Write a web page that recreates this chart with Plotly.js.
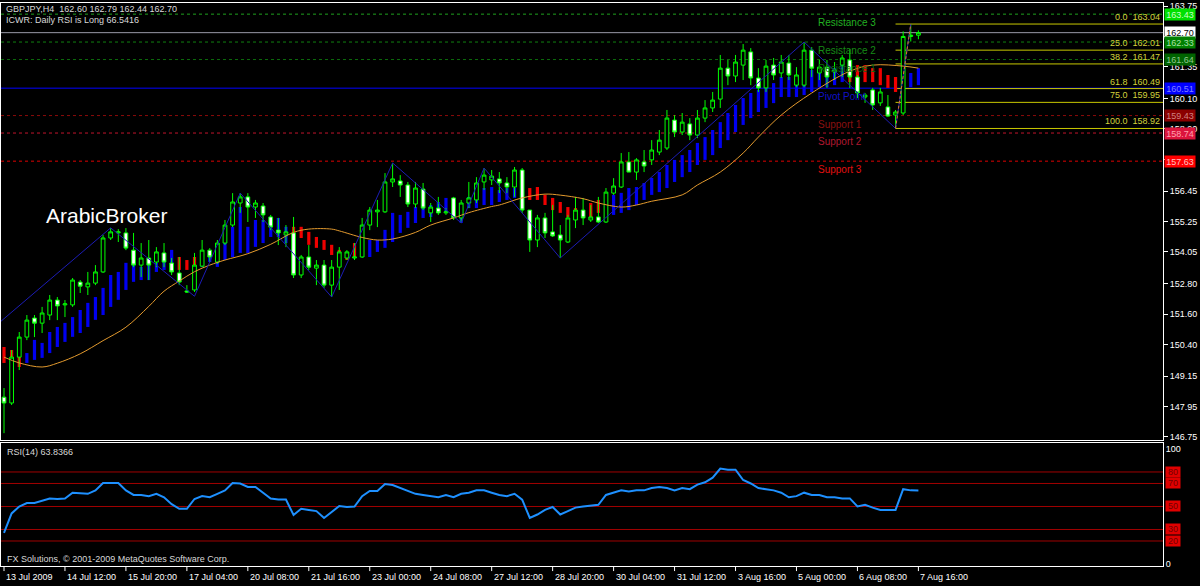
<!DOCTYPE html>
<html><head><meta charset="utf-8">
<script src="https://cdn.plot.ly/plotly-3.0.1.min.js"></script>
<style>html,body{margin:0;padding:0;background:#000;}#chart{width:1200px;height:586px;}</style>
</head><body><div id="chart"></div>
<script>
// ---------- DATA ----------
const headerLine1 = 'GBPJPY,H4\u00a0\u00a0162.60 162.79 162.44 162.70';
const headerLine2 = 'ICWR: Daily RSI is Long 66.5416';
const rsiLabel = 'RSI(14) 63.8366';
const copyright = 'FX Solutions, \u00a9 2001-2009 MetaQuotes Software Corp.';
const brandText = 'ArabicBroker';

const timeLabels = ['13 Jul 2009','14 Jul 12:00','15 Jul 20:00','17 Jul 04:00','20 Jul 08:00','21 Jul 16:00','23 Jul 00:00','24 Jul 08:00','27 Jul 12:00','28 Jul 20:00','30 Jul 04:00','31 Jul 12:00','3 Aug 16:00','5 Aug 00:00','6 Aug 08:00','7 Aug 16:00'];
const timeLabelBars = [0,8,16,24,32,40,48,56,64,72,80,88,96,104,112,120];

const open = [148.32,148.09,149.90,150.69,151.44,151.24,151.56,152.15,151.96,151.96,
152.86,152.67,152.82,153.26,154.60,154.80,154.80,154.12,153.53,153.81,
153.65,154.01,153.61,153.22,152.51,152.55,153.49,154.12,153.65,154.40,
155.11,155.98,156.22,155.82,155.86,155.43,154.91,154.72,154.80,153.14,
153.85,153.41,153.53,152.74,153.45,153.81,153.81,153.85,155.11,155.63,
155.63,156.81,156.85,156.69,155.94,156.53,155.59,155.78,155.59,156.18,
155.39,155.98,156.10,156.81,156.89,156.93,156.77,156.61,157.28,155.70,
154.52,155.39,154.84,154.72,154.44,155.31,155.70,155.31,155.43,155.23,
156.37,156.61,157.60,157.20,157.60,157.68,157.99,158.15,159.25,158.78,
159.10,158.66,159.33,159.73,160.08,161.30,160.99,161.42,161.94,160.91,
160.52,161.42,161.11,161.50,160.63,160.63,162.01,161.11,161.34,161.15,
161.42,161.62,160.95,160.16,160.44,159.93,159.77,159.45,159.53,162.55,
162.60];
const high = [148.68,150.18,150.89,151.56,151.56,151.88,152.35,152.27,152.15,153.02,
152.94,153.26,153.53,154.72,154.99,154.95,154.99,154.80,154.40,154.52,
154.24,154.40,153.81,153.85,152.74,154.01,154.52,154.20,154.52,155.31,
156.37,156.37,156.37,156.10,155.98,155.51,155.39,155.11,155.43,153.93,
154.32,153.73,153.73,153.73,154.24,154.12,154.40,155.39,155.82,156.10,
157.16,157.56,157.08,156.81,156.81,156.77,155.98,156.22,155.78,156.22,
156.10,156.81,157.00,157.36,157.28,157.20,157.00,157.40,157.36,155.70,
155.51,155.59,155.90,155.11,155.51,156.22,156.18,155.90,156.22,156.57,
156.96,157.95,157.99,157.75,158.07,158.46,158.86,159.65,159.45,159.53,
159.33,159.65,160.04,160.36,161.82,161.62,161.82,162.25,162.09,161.30,
161.62,161.70,161.82,161.82,161.34,162.33,162.13,161.62,161.62,161.54,
161.82,162.05,161.03,160.32,160.52,160.52,160.24,159.65,162.75,163.04,
162.79];
const low = [146.90,148.01,149.39,150.57,150.69,150.85,151.36,151.36,151.48,151.88,
152.43,152.35,152.74,153.22,154.52,154.44,154.12,153.45,153.06,152.94,
153.45,153.45,153.14,152.74,152.43,152.47,153.45,153.65,153.57,154.32,
155.03,155.59,155.23,155.39,155.23,154.91,154.32,154.24,153.02,153.02,
153.34,152.74,152.63,152.27,152.55,153.73,153.73,153.81,154.91,155.03,
155.59,156.61,156.22,155.82,155.78,155.70,155.23,155.51,155.51,155.31,
155.19,155.78,155.98,156.49,156.69,156.37,156.37,156.22,155.59,154.05,
154.24,154.60,154.64,153.81,154.40,154.99,155.11,155.23,155.19,155.19,
156.30,156.57,157.20,156.89,157.20,157.48,157.87,158.07,158.58,158.66,
158.46,158.54,159.17,159.57,159.73,160.63,160.75,160.83,160.63,160.36,
160.36,160.83,160.91,160.83,160.55,160.55,160.95,160.83,160.52,160.83,
160.95,160.52,160.12,159.93,159.65,159.81,159.37,158.92,159.45,162.35,
162.44];
const close = [148.09,149.90,150.69,151.36,151.24,151.64,152.15,151.92,152.00,152.94,
152.70,152.82,153.26,154.60,154.84,154.84,154.20,153.53,153.81,153.53,
154.05,153.65,153.26,152.86,152.47,153.53,154.12,153.85,154.40,155.11,
156.02,156.22,155.82,155.98,155.51,155.03,154.80,154.84,153.14,153.85,
153.45,153.53,152.74,153.45,154.05,154.05,153.85,155.11,155.70,155.70,
156.81,156.93,156.69,155.94,156.57,155.78,155.82,155.59,155.63,155.39,
155.98,156.18,156.77,157.08,157.04,156.77,156.61,157.28,155.70,154.52,
155.39,154.80,154.68,154.52,155.39,155.70,155.39,155.43,155.23,156.41,
156.65,157.60,157.20,157.68,157.44,158.07,158.46,159.33,158.78,159.17,
158.66,159.33,159.73,160.04,161.30,160.99,161.54,162.01,160.91,160.52,
161.38,161.03,161.54,161.03,161.03,162.01,161.30,161.34,160.95,161.23,
161.70,160.95,160.32,160.24,159.85,160.36,159.41,159.57,162.55,162.60,
162.70];

// trend band indicator (top / bottom of each histogram bar, direction 1 = up/blue, -1 = down/red)
const bandTop = [150.30,150.18,149.91,150.06,150.58,150.46,150.89,151.09,151.25,151.48,
151.76,152.04,152.27,152.63,153.14,153.26,153.62,153.65,153.46,153.54,
153.62,153.73,154.13,153.85,153.73,153.85,154.01,153.85,154.25,154.80,
155.04,155.82,155.04,155.31,155.31,155.43,155.39,155.04,155.04,155.04,
154.84,154.64,154.52,154.33,154.13,154.05,154.40,154.64,154.52,154.52,
154.92,155.59,155.51,155.63,155.82,155.82,155.90,156.02,156.18,156.10,
155.70,156.22,156.38,156.57,156.61,156.49,156.57,156.57,156.89,156.57,
156.61,156.30,156.18,156.02,155.82,155.78,155.70,155.98,156.10,155.98,
156.30,156.38,156.57,156.61,156.77,156.97,157.20,157.48,157.68,157.87,
158.07,158.35,158.58,158.86,159.17,159.53,159.85,160.12,160.32,160.44,
160.55,160.71,160.95,160.95,160.83,161.03,161.23,161.23,161.34,161.30,
161.42,161.42,161.42,161.42,161.30,161.30,161.03,160.95,161.11,161.11,
161.30];
const bandBot = [149.67,149.55,149.51,149.67,149.79,149.87,150.06,150.30,150.50,150.70,
150.85,151.09,151.37,151.56,151.88,152.16,152.55,152.87,152.94,152.94,
153.26,153.34,153.46,153.34,153.34,153.34,153.46,153.65,153.46,153.73,
153.85,154.01,154.01,154.25,154.40,154.64,154.64,154.40,154.80,154.60,
154.33,154.21,154.13,153.93,153.73,153.73,153.85,153.85,153.85,154.05,
154.21,154.44,154.80,155.00,155.19,155.39,155.43,155.59,155.63,155.39,
155.19,155.78,155.78,155.90,155.90,156.02,156.10,156.18,156.30,156.10,
156.10,155.90,155.70,155.59,155.43,155.43,155.39,155.31,155.59,155.43,
155.51,155.59,155.70,155.90,156.10,156.30,156.41,156.57,156.81,157.00,
157.20,157.48,157.68,157.87,158.15,158.46,158.78,159.06,159.33,159.57,
159.73,159.92,160.16,160.16,160.16,160.24,160.36,160.55,160.55,160.63,
160.75,160.75,160.75,160.75,160.75,160.63,160.52,160.36,160.55,160.55,
160.63];
const bandDir = [-1,-1,-1,1,1,1,1,1,1,1,
1,1,1,1,1,1,1,1,1,1,
1,1,1,-1,-1,-1,1,1,1,1,
1,1,1,1,1,1,1,1,-1,-1,
-1,-1,-1,-1,-1,-1,-1,1,1,1,
1,1,1,1,1,1,1,1,1,1,
1,1,1,1,1,1,1,1,1,-1,
-1,-1,-1,-1,-1,-1,-1,-1,-1,1,
1,1,1,1,1,1,1,1,1,1,
1,1,1,1,1,1,1,1,1,1,
1,1,1,1,1,1,1,1,1,1,
1,-1,-1,-1,-1,-1,-1,-1,1,1,
1];

// moving average (read at selected bars)
const maBars = [0,2,5,7,10,13,16,19,21,23,25,27,29,32,35,38,40,43,44,47,49,51,54,56,59,61,64,65,68,71,73,76,78,81,83,85,89,91,94,97,99,102,106,111,114,118,120];
const maVals = [149.90,149.67,149.51,149.66,150.03,150.55,151.08,151.90,152.50,152.90,153.27,153.53,153.73,153.98,154.35,154.82,154.95,154.95,154.88,154.62,154.52,154.56,154.82,155.11,155.39,155.60,155.84,155.90,156.18,156.33,156.29,156.15,155.98,155.82,155.90,156.05,156.30,156.69,157.20,157.95,158.58,159.45,160.32,161.18,161.42,161.38,161.30];

// zigzag swing points
const zzBars = [-1,14,25,31,43,51,60,63,73,105,117,119];
const zzVals = [151.16,155.00,152.30,156.37,152.27,157.56,155.19,157.36,153.81,162.33,158.92,163.04];

// pivot levels
const pivotNames = ['Resistance 3','Resistance 2','Resistance 1','Pivot Point','Support 1','Support 2','Support 3'];
const pivotVals = [163.43,162.33,161.64,160.51,159.43,158.74,157.63];
const pivotLabelBar = 106.5;
const bidPrice = 162.70;

// fibonacci
const fibLowBar = 117, fibHighBar = 119;
const fibLow = 158.92, fibHigh = 163.04;
const fibLevels = [0.0,25.0,38.2,61.8,75.0,100.0];

// price axis ticks (labels hidden under price tags are left blank)
const priceTicks = [163.75,162.55,161.35,160.10,158.90,157.70,156.45,155.25,154.05,152.80,151.60,150.40,149.15,147.95,146.75];
const priceTickText = ['163.75','','161.35','160.10','158.90','','156.45','155.25','154.05','152.80','151.60','150.40','149.15','147.95','146.75'];

// RSI(14)
const rsi = [27,44,50,53,53,55,57,56.5,57,62,
61.5,61,64,70.4,70.4,70.4,64,60,60,59,
61,58,52,48,48,56.5,59,58,61,64,
70.4,70,67,67,62,57,56,56,42.6,48,
47,46,40,45,50.4,49.6,50,59,63.5,63.5,
69.6,68.7,66,64,61,60,59,58,60,58,
61,62,64,64,62,60,59,61,56,40,
43,47,49.6,43,46,49,50,51,51.5,60,
62,64,63,64,64,66,67,66,64,66,
65,69,71,75,83,82,82,73,70,66,
65,64,62,58,59,62,60,60,58,58,
57,57,50,51.5,49,47,47,47,65,64,
63.8366];
const rsiLevels = [80,70,50,30,20];

// ---------- STYLE / BUILD ----------
const FONT = 'Liberation Sans, Arial, sans-serif';
const bars = open.map((_, i) => i);
const xRange = [-0.394, 152.1];

const traces = [];
traces.push({
  type:'bar', x: bars, y: bandTop.map((t,i)=>t-bandBot[i]), base: bandBot,
  width: 0.42, marker:{color: bandDir.map(d => d > 0 ? '#0000f0' : '#f00000'), line:{width:0}},
  xaxis:'x', yaxis:'y', hoverinfo:'skip'
});
traces.push({
  type:'candlestick', x: bars, open, high, low, close,
  increasing:{line:{color:'#00ff00', width:1}, fillcolor:'#000000'},
  decreasing:{line:{color:'#00ff00', width:1}, fillcolor:'#ffffff'},
  whiskerwidth:0, xaxis:'x', yaxis:'y', hoverinfo:'skip'
});
traces.push({
  type:'scatter', mode:'lines', x: maBars, y: maVals,
  line:{color:'#e39a2e', width:1, shape:'spline'}, xaxis:'x', yaxis:'y', hoverinfo:'skip'
});
traces.push({
  type:'scatter', mode:'lines', x: zzBars, y: zzVals,
  line:{color:'#1c1cb4', width:1}, xaxis:'x', yaxis:'y', hoverinfo:'skip'
});
traces.push({
  type:'scatter', mode:'lines', x: bars, y: rsi,
  line:{color:'#1e90ff', width:2}, xaxis:'x2', yaxis:'y2', hoverinfo:'skip'
});

const shapes = [];
const annotations = [];

// fib lines
const fibPrice = l => fibHigh - (fibHigh - fibLow) * l / 100;
fibLevels.forEach(l => {
  const p = fibPrice(l);
  shapes.push({type:'line', layer:'below', xref:'x', yref:'y', x0: fibLowBar, x1: xRange[1], y0:p, y1:p, line:{color:'#c8c800', width:1}});
  annotations.push({xref:'paper', yref:'y', x:1, y:p, xanchor:'right', yanchor:'bottom', xshift:-1, yshift:0, showarrow:false,
    text: l.toFixed(1) + '\u00a0\u00a0' + p.toFixed(2), font:{family:FONT, size:9, color:'#d2d23c'}});
});
// bid line
shapes.push({type:'line', layer:'below', xref:'paper', yref:'y', x0:0, x1:1, y0:bidPrice, y1:bidPrice, line:{color:'#9a9aa8', width:1}});
// pivot lines
const pivotLineColors = ['#1fa01f','#108010','#0c6a0c','#0000ff','#8b0a0a','#c0142c','#e00000'];
const pivotTextColors = ['#22b022','#168a16','#0e6a0e','#1010c8','#8a1010','#b01830','#e01010'];
pivotVals.forEach((v, k) => {
  shapes.push({type:'line', layer:'below', xref:'paper', yref:'y', x0:0, x1:1, y0:v, y1:v,
    line:{color:pivotLineColors[k], width:1, dash: k === 3 ? 'solid' : '3px,3px'}});
  annotations.push({xref:'x', yref:'y', x: pivotLabelBar, y: v, xanchor:'left', yanchor:'top', yshift:-1, showarrow:false,
    text: pivotNames[k], font:{family:FONT, size:10, color: pivotTextColors[k]}});
});
// fib diagonal
shapes.push({type:'line', xref:'x', yref:'y', x0:fibLowBar, y0:fibLow, x1:fibHighBar, y1:fibHigh, line:{color:'#e07828', width:1, dash:'3px,2px'}});

// RSI levels
rsiLevels.forEach(v => {
  shapes.push({type:'line', layer:'below', xref:'paper', yref:'y2', x0:0, x1:1, y0:v, y1:v, line:{color:'#a00000', width:1}});
  annotations.push({xref:'paper', yref:'y2', x:1, y:v, xanchor:'left', yanchor:'middle', xshift:2, showarrow:false, text:String(v),
    bgcolor:'#e00000', font:{family:FONT, size:9, color:'#700000'}, borderpad:0, width:14, height:10});
});

// price tags on the right axis
const tagVals = [163.43, 162.70, 162.33, 161.64, 160.51, 159.43, 158.74, 157.63];
const tagBg = ['#00e000','#ffffff','#008000','#006400','#0000ff','#8b0000','#dc143c','#ff0000'];
const tagFg = ['#c8ffc8','#000000','#a8e0a8','#90c890','#8080ff','#d08080','#ffa0b0','#ffc0c0'];
tagVals.forEach((v, k) => {
  annotations.push({xref:'paper', yref:'y', x:1, y:v, xanchor:'left', yanchor:'middle', xshift:1, showarrow:false, text:v.toFixed(2),
    bgcolor: tagBg[k], font:{family:FONT, size:9, color: tagFg[k]}, borderpad:0, width:30, height:11});
});

// time labels
timeLabels.forEach((t, k) => {
  annotations.push({xref:'x', yref:'paper', x: timeLabelBars[k], y:0, xanchor:'left', yanchor:'top', xshift:0, yshift:-4,
    showarrow:false, text:t, font:{family:FONT, size:9, color:'#ffffff'}});
  shapes.push({type:'line', xref:'x', yref:'paper', x0: timeLabelBars[k], x1: timeLabelBars[k], y0:0, y1:-0.009, line:{color:'#ffffff', width:1}});
});

// texts
annotations.push({xref:'paper', yref:'paper', x:0, y:1, xanchor:'left', yanchor:'top', xshift:3, yshift:1, showarrow:false,
  text: headerLine1, font:{family:FONT, size:9, color:'#d8d8d8'}});
annotations.push({xref:'paper', yref:'paper', x:0, y:1, xanchor:'left', yanchor:'top', xshift:3, yshift:-10, showarrow:false,
  text: headerLine2, font:{family:FONT, size:9, color:'#d8d8d8'}});
annotations.push({xref:'x', yref:'y', x:5.3, y:155.5, xanchor:'left', yanchor:'middle', showarrow:false,
  text: brandText, font:{family:FONT, size:21, color:'#ffffff'}});
annotations.push({xref:'paper', yref:'paper', x:0, y:0.2185, xanchor:'left', yanchor:'top', xshift:4, yshift:-2, showarrow:false,
  text: rsiLabel, font:{family:FONT, size:9, color:'#d8d8d8'}});
annotations.push({xref:'paper', yref:'paper', x:0, y:0, xanchor:'left', yanchor:'bottom', xshift:4, yshift:0, showarrow:false,
  text: copyright, font:{family:FONT, size:9, color:'#d8d8d8'}});

const axisCommon = {showgrid:false, zeroline:false, showline:true, mirror:true, linecolor:'#ffffff', linewidth:1};
const layout = {
  width:1200, height:586, paper_bgcolor:'#000000', plot_bgcolor:'#000000',
  margin:{l:1, r:37, t:3, b:20}, showlegend:false, dragmode:false,
  xaxis: Object.assign({domain:[0,1], range:xRange, anchor:'y', showticklabels:false, ticks:'', rangeslider:{visible:false}, fixedrange:true}, axisCommon),
  xaxis2: Object.assign({domain:[0,1], range:xRange, anchor:'y2', matches:'x', showticklabels:false, ticks:'', rangeslider:{visible:false}}, axisCommon),
  yaxis: Object.assign({domain:[0.2238,1], range:[146.63,163.87], side:'right', anchor:'x',
    tickvals: priceTicks, ticktext: priceTickText, ticks:'outside', ticklen:4, tickcolor:'#ffffff',
    tickfont:{family:FONT, size:9, color:'#ffffff'}}, axisCommon),
  yaxis2: Object.assign({domain:[0,0.2185], range:[-1.74,105.2], side:'right', anchor:'x2',
    tickvals:[0,100], ticktext:['0','100'], ticks:'', tickfont:{family:FONT, size:9, color:'#ffffff'}}, axisCommon),
  shapes, annotations
};
Plotly.newPlot('chart', traces, layout, {staticPlot:true, displayModeBar:false});
</script></body></html>
